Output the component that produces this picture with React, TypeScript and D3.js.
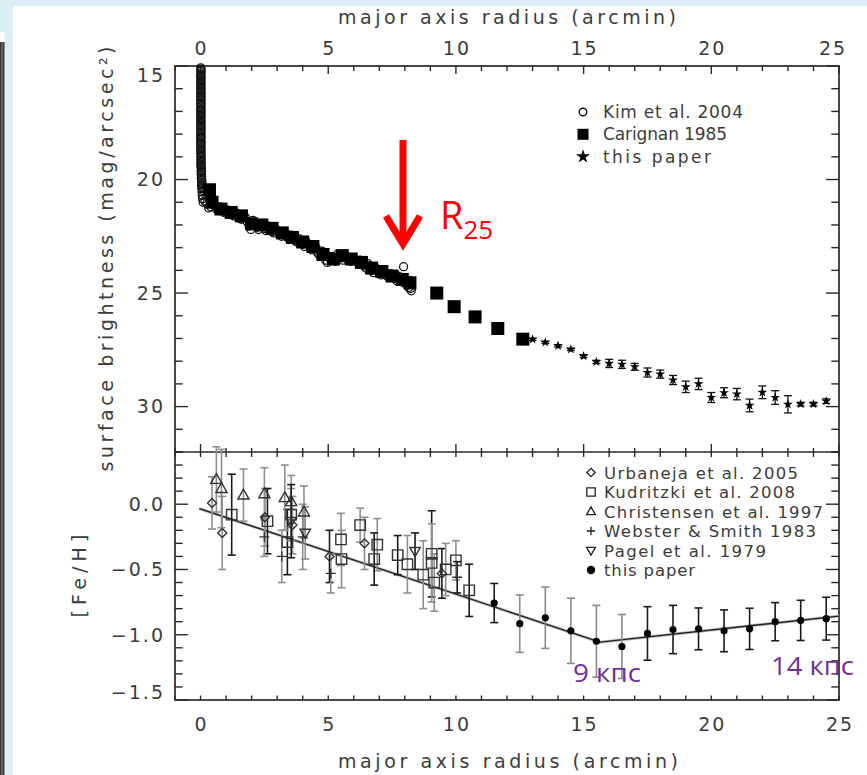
import React from "react";
import * as d3 from "d3";

// ---------------- data ----------------
// Upper panel: surface brightness profile (Kim et al. 2004, open circles)
const kimR = [
  0.02, 0.02, 0.02, 0.02, 0.02, 0.02, 0.02, 0.02, 0.02, 0.02, 0.02, 0.02, 0.02,
  0.02, 0.02, 0.02, 0.02, 0.02, 0.02, 0.02, 0.02, 0.02, 0.02, 0.02, 0.02, 0.02,
  0.02, 0.02, 0.02, 0.03, 0.03, 0.03, 0.03, 0.04, 0.04, 0.05, 0.06, 0.07, 0.08,
  0.01, 0.01, 0.01, 0.01, 0.01, 0.01, 0.01, 0.01, 0.01, 0.01, 0.01, 0.01, 0.01,
  0.01, 0.01, 0.01, 0.01, 0.01, 0.01, 0.01, 0.01, 0.01, 0.01, 0.01, 0.01, 0.01,
  0.02, 0.02, 0.02, 0.02, 0.03, 0.03, 0.04, 0.05, 0.06, 0.07, 0.09,
  0.1, 0.25, 0.4, 0.55, 0.7, 0.85, 1.0, 1.15, 1.3, 1.45, 1.6, 1.75, 1.9, 2.05,
  2.2, 2.35, 2.5, 2.65, 2.8, 2.95, 3.1, 3.25, 3.4, 3.55, 3.7, 3.85, 4.0, 4.15,
  4.3, 4.45, 4.6, 4.75, 4.9, 5.05, 5.2, 5.35, 5.5, 5.65, 5.8, 5.95, 6.1, 6.25,
  6.4, 6.55, 6.7, 6.85, 7.0, 7.15, 7.3, 7.45, 7.6, 7.75, 7.9, 7.95, 8.05, 8.15,
  8.25, 8.2,
  0.17, 0.32, 0.47, 0.62, 0.77, 0.92, 1.07, 1.22, 1.37, 1.52, 1.67, 1.82, 1.97,
  2.12, 2.27, 2.42, 2.57, 2.72, 2.87, 3.02, 3.17, 3.32, 3.47, 3.62, 3.77, 3.92,
  4.07, 4.22, 4.37, 4.52, 4.67, 4.82, 4.97, 5.12, 5.27, 5.42, 5.57, 5.72, 5.87,
  6.02, 6.17, 6.32, 6.47, 6.62, 6.77, 6.92, 7.07, 7.22, 7.37, 7.52, 7.67, 7.82,
  7.97, 8.1, 8.22,
];
const kimMag = [
  15.15, 15.3, 15.45, 15.6, 15.75, 15.9, 16.05, 16.2, 16.35, 16.5, 16.65, 16.8,
  16.95, 17.1, 17.25, 17.4, 17.55, 17.7, 17.85, 18.0, 18.15, 18.3, 18.45, 18.6,
  18.75, 18.9, 19.05, 19.2, 19.35, 19.5, 19.65, 19.8, 19.95, 20.1, 20.25, 20.4,
  20.55, 20.7, 20.85,
  15.08, 15.22, 15.38, 15.52, 15.68, 15.82, 15.98, 16.12, 16.28, 16.42, 16.58,
  16.72, 16.88, 17.02, 17.18, 17.32, 17.48, 17.62, 17.78, 17.92, 18.08, 18.22,
  18.38, 18.52, 18.68, 18.82, 18.98, 19.12, 19.28, 19.42, 19.58, 19.72, 19.88,
  20.02, 20.18, 20.32, 20.48,
  21.0, 21.05, 21.2, 21.15, 21.35, 21.3, 21.45, 21.4, 21.6, 21.5, 21.75, 21.65,
  22.05, 21.8, 22.1, 21.95, 22.15, 22.05, 22.3, 22.2, 22.4, 22.3, 22.55, 22.45,
  22.7, 22.6, 22.85, 22.75, 23.0, 22.95, 23.25, 23.15, 23.55, 23.45, 23.5, 23.3,
  23.45, 23.35, 23.55, 23.45, 23.6, 23.55, 23.8, 23.7, 24.0, 23.9, 24.1, 24.0,
  24.25, 24.15, 24.35, 24.25, 24.45, 23.84, 24.55, 24.75, 24.9, 24.45,
  20.95, 21.25, 21.05, 21.3, 21.2, 21.45, 21.35, 21.55, 21.45, 21.7, 21.6, 21.85,
  22.2, 21.95, 22.2, 22.05, 22.25, 22.1, 22.35, 22.25, 22.5, 22.35, 22.6, 22.55,
  22.75, 22.7, 22.95, 22.85, 23.1, 23.0, 23.35, 23.3, 23.65, 23.4, 23.6, 23.4,
  23.55, 23.4, 23.6, 23.5, 23.7, 23.65, 23.9, 23.8, 24.1, 23.95, 24.2, 24.1,
  24.3, 24.25, 24.45, 24.35, 24.55, 24.65, 24.8,
];
// Carignan 1985 (filled squares)
const carR = [
  0.35, 0.45, 0.8, 1.2, 1.6, 2.0, 2.4, 2.8, 3.2, 3.6, 4.0, 4.4, 4.8, 5.2, 5.55,
  5.9, 6.3, 6.7, 7.1, 7.5, 7.9, 8.2, 9.25, 9.93, 10.75, 11.64, 12.62,
];
const carMag = [
  20.45, 21.0, 21.3, 21.45, 21.6, 21.95, 22.0, 22.15, 22.35, 22.55, 22.75,
  22.95, 23.3, 23.5, 23.35, 23.5, 23.65, 23.9, 24.05, 24.25, 24.4, 24.55, 25.0,
  25.6, 26.05, 26.56, 27.03,
];
// this paper (stars with error bars)
const starR = [
  13.0, 13.5, 14.0, 14.5, 15.0, 15.5, 16.0, 16.5, 17.0, 17.5, 18.0, 18.5, 19.0,
  19.5, 20.0, 20.5, 21.0, 21.5, 22.0, 22.5, 23.0, 23.5, 24.0, 24.5,
];
const starMag = [
  27.04, 27.17, 27.32, 27.48, 27.78, 28.03, 28.1, 28.14, 28.25, 28.5, 28.57,
  28.83, 29.13, 29.0, 29.6, 29.39, 29.45, 29.95, 29.37, 29.6, 29.9, 29.89,
  29.89, 29.76,
];
const starErr = [
  0.05, 0.05, 0.05, 0.05, 0.06, 0.07, 0.18, 0.18, 0.15, 0.2, 0.18, 0.2, 0.25,
  0.25, 0.22, 0.22, 0.25, 0.28, 0.28, 0.3, 0.38, 0.08, 0.08, 0.1,
];

// Lower panel: [Fe/H] gradient  ([radius, [Fe/H], error])
const urbaneja = [
  [0.45, 0.01, 0.2], [0.85, -0.22, 0.28], [2.52, -0.1, 0.22], [3.6, -0.16, 0.22],
  [5.05, -0.4, 0.2], [6.42, -0.3, 0.2], [9.45, -0.53, 0.19],
];
const kudritzki = [
  [1.22, -0.08, 0.31], [2.62, -0.13, 0.25], [3.4, -0.29, 0.25], [3.55, -0.08, 0.2],
  [5.5, -0.27, 0.2], [5.52, -0.42, 0.22], [6.25, -0.16, 0.13], [6.92, -0.31, 0.2],
  [6.8, -0.42, 0.2], [7.72, -0.39, 0.15], [8.1, -0.46, 0.22], [8.72, -0.54, 0.26],
  [9.05, -0.38, 0.33], [9.05, -0.45, 0.3], [9.15, -0.6, 0.22], [9.6, -0.5, 0.2],
  [10.0, -0.43, 0.15], [10.52, -0.66, 0.2],
];
const christensen = [
  [0.62, 0.19, 0.25], [0.82, 0.12, 0.3], [1.68, 0.07, 0.2], [2.5, 0.08, 0.2],
  [3.3, 0.05, 0.25], [3.55, 0.02, 0.2], [4.05, -0.06, 0.2],
];
const webster = [
  [2.5, -0.25, 0.15], [3.18, -0.4, 0.2], [4.0, -0.25, 0.25], [5.1, -0.53, 0.15],
  [10.05, -0.56, 0.12],
];
const pagel = [[3.55, -0.13, 0.28], [4.1, -0.22, 0.2], [8.4, -0.36, 0.14]];
const tpR = [11.5, 12.5, 13.5, 14.5, 15.5, 16.5, 17.5, 18.5, 19.5, 20.5, 21.5, 22.5, 23.5, 24.5];
const tpFeH = [-0.757, -0.915, -0.87, -0.97, -1.05, -1.09, -0.99, -0.96, -0.955, -0.97, -0.955, -0.9, -0.89, -0.877];
const tpErr = [0.15, 0.22, 0.235, 0.25, 0.275, 0.245, 0.205, 0.185, 0.16, 0.16, 0.158, 0.146, 0.154, 0.164];
const fitR = [-0.05, 15.64, 25];
const fitFeH = [-0.033, -1.057, -0.857];

// tick labels & legend texts
const xTickLabels = [0, 5, 10, 15, 20, 25];
const sbTickLabels = [15, 20, 25, 30];
const fehTickLabels = [0.0, -0.5, -1.0, -1.5];
const topLegend = ["Kim et al. 2004", "Carignan 1985", "this paper"];
const botLegend = [
  "Urbaneja et al. 2005",
  "Kudritzki et al. 2008",
  "Christensen et al. 1997",
  "Webster & Smith 1983",
  "Pagel et al. 1979",
  "this paper",
];

// styling
const topLegendWidths = [140, 124, 108];
const botLegendWidths = [194, 191, 219, 212, 162, 91];
const darkBars: Record<string, number[]> = {
  urbaneja: [4, 6],
  kudritzki: [0, 1, 2, 8, 9, 12, 17],
  pagel: [0, 2],
  webster: [4],
  christensen: [],
};

// ---------------- layout ----------------
const W = 867;
const H = 775;
const L = 175, R = 839, T = 66, MID = 452, B = 700;
const AX = "#2a2a2a";
const TXT = "#3c3c3c";
const FONT = "DejaVu Sans";

const fmtFe = (v: number) => (v < 0 ? "\u2212" : "") + Math.abs(v).toFixed(1);

function marker(kind: string, cx: number, cy: number, s = 4.6): string {
  switch (kind) {
    case "diamond":
      return `M${cx},${cy - s}L${cx + s},${cy}L${cx},${cy + s}L${cx - s},${cy}Z`;
    case "square":
      return `M${cx - s},${cy - s}h${2 * s}v${2 * s}h${-2 * s}Z`;
    case "tri":
      return `M${cx},${cy - s * 1.1}L${cx + s * 1.05},${cy + s * 0.75}L${cx - s * 1.05},${cy + s * 0.75}Z`;
    case "tridown":
      return `M${cx},${cy + s * 1.1}L${cx + s * 1.05},${cy - s * 0.75}L${cx - s * 1.05},${cy - s * 0.75}Z`;
    case "plus":
      return `M${cx - s},${cy}H${cx + s}M${cx},${cy - s}V${cy + s}`;
    default:
      return "";
  }
}

export default function App() {
  const x = d3.scaleLinear().domain([-1, 25]).range([L, R]);
  const ySB = d3.scaleLinear().domain([15, 32]).range([T, MID]);
  const yFe = d3.scaleLinear().domain([0.4, -1.5]).range([MID, B]);

  const starPath = d3.symbol().type(d3.symbolStar).size(30)() as string;
  const legendStar = d3.symbol().type(d3.symbolStar).size(60)() as string;

  const xMinor = d3.range(-1, 26);
  const sbMinor = d3.range(15, 33);
  const feMinor = d3.range(-15, 5).map((d) => d / 10);

  const fitLine = d3
    .line<number>()
    .x((_, i) => x(fitR[i]))
    .y((d) => yFe(d))(fitFeH) as string;

  const lit = [
    { key: "urbaneja", data: urbaneja, kind: "diamond", s: 4.5 },
    { key: "kudritzki", data: kudritzki, kind: "square", s: 5.2 },
    { key: "christensen", data: christensen, kind: "tri", s: 5.3 },
    { key: "webster", data: webster, kind: "plus", s: 5 },
    { key: "pagel", data: pagel, kind: "tridown", s: 5 },
  ];

  const tickLabelY = (y: number, top: number, bottom: number) =>
    Math.min(Math.max(y, top + 9), bottom - 8);

  return (
    <svg
      width={W}
      height={H}
      style={{ position: "absolute", left: 0, top: 0, background: "#dbeef4" }}
      fontFamily={FONT}
    >
      {/* page decoration */}
      <rect x={0} y={0} width={W} height={H} fill="#dbeef4" />
      <rect x={13} y={6} width={W - 13} height={H - 6} fill="#ffffff" />
      <rect x={0} y={32} width={4.5} height={10} fill="#ffffff" />
      <rect x={0} y={42} width={4.5} height={H - 42} fill="#3a3a3a" />
      <rect x={1.5} y={42} width={1.2} height={H - 42} fill="#777" />

      {/* ---------- frames ---------- */}
      <rect x={L} y={T} width={R - L} height={B - T} fill="none" stroke={AX} strokeWidth={1.7} />
      <line x1={L} x2={R} y1={MID} y2={MID} stroke={AX} strokeWidth={1.7} />

      {/* x ticks */}
      {xMinor.map((v) => {
        const major = v % 5 === 0;
        const px = x(v);
        return (
          <g key={"xt" + v} stroke={AX} strokeWidth={1.4}>
            <line x1={px} x2={px} y1={T} y2={T + (major ? 8 : 5)} />
            <line x1={px} x2={px} y1={MID} y2={MID - (major ? 8 : 4)} />
            <line x1={px} x2={px} y1={MID} y2={MID + 5} />
            <line x1={px} x2={px} y1={B} y2={B - 4.5} />
          </g>
        );
      })}
      {/* y ticks upper */}
      {sbMinor.map((v) => {
        const len = v % 5 === 0 ? 13 : 7.7;
        const py = ySB(v);
        return (
          <g key={"sb" + v} stroke={AX} strokeWidth={1.4}>
            <line x1={L} x2={L + len} y1={py} y2={py} />
            <line x1={R} x2={R - len} y1={py} y2={py} />
          </g>
        );
      })}
      {/* y ticks lower */}
      {feMinor.map((v) => {
        const major = Math.abs(Math.round(v * 10)) % 5 === 0;
        const len = major ? 13 : 7.7;
        const py = yFe(v);
        return (
          <g key={"fe" + v} stroke={AX} strokeWidth={1.4}>
            <line x1={L} x2={L + len} y1={py} y2={py} />
            <line x1={R} x2={R - len} y1={py} y2={py} />
          </g>
        );
      })}

      {/* tick labels */}
      <g fill={TXT} fontSize={19} letterSpacing={2}>
        {xTickLabels.map((v) => (
          <text key={"xl" + v} x={x(v) + (v === 25 ? -6 : 1)} y={55} textAnchor="middle">
            {v}
          </text>
        ))}
        {xTickLabels.map((v) => (
          <text key={"xb" + v} x={x(v) + 1} y={731} textAnchor="middle">
            {v}
          </text>
        ))}
        {sbTickLabels.map((v) => (
          <text key={"sl" + v} x={165} y={tickLabelY(ySB(v), T, MID)} dy="0.36em" textAnchor="end">
            {v}
          </text>
        ))}
        {fehTickLabels.map((v) => (
          <text key={"fl" + v} x={165} y={tickLabelY(yFe(v), MID, B)} dy="0.36em" textAnchor="end">
            {fmtFe(v)}
          </text>
        ))}
      </g>

      {/* axis titles */}
      <g fill={TXT} fontSize={19}>
        <text x={338} y={24} textLength={338} lengthAdjust="spacing">
          major axis radius (arcmin)
        </text>
        <text x={338} y={768} textLength={340} lengthAdjust="spacing">
          major axis radius (arcmin)
        </text>
        <text
          transform={`translate(113,${(T + MID) / 2}) rotate(-90)`}
          textAnchor="middle"
          textLength={425}
          lengthAdjust="spacing"
        >
          surface brightness (mag/arcsec²)
        </text>
        <text
          transform={`translate(86,${(MID + B) / 2}) rotate(-90)`}
          textAnchor="middle"
          textLength={83}
          lengthAdjust="spacing"
        >
          [Fe/H]
        </text>
      </g>

      {/* ---------- upper panel data ---------- */}
      <g>
        {kimR.map((r, i) => (
          <circle
            key={"k" + i}
            cx={x(r)}
            cy={ySB(kimMag[i])}
            r={4}
            fill="none"
            stroke="#111"
            strokeWidth={1.3}
          />
        ))}
        {carR.map((r, i) => (
          <rect
            key={"c" + i}
            x={x(r) - 6.5}
            y={ySB(carMag[i]) - 6.5}
            width={13}
            height={13}
            fill="#000"
          />
        ))}
        {starR.map((r, i) => {
          const px = x(r);
          const y1 = ySB(starMag[i] - starErr[i]);
          const y2 = ySB(starMag[i] + starErr[i]);
          return (
            <g key={"s" + i} stroke="#111" strokeWidth={1.3}>
              <line x1={px} x2={px} y1={y1} y2={y2} />
              <line x1={px - 4} x2={px + 4} y1={y1} y2={y1} />
              <line x1={px - 4} x2={px + 4} y1={y2} y2={y2} />
              <path d={starPath} transform={`translate(${px},${ySB(starMag[i])})`} fill="#000" stroke="none" />
            </g>
          );
        })}
      </g>

      {/* upper legend */}
      <g fill={TXT} fontSize={17}>
        {topLegend.map((t, i) => {
          const cy = 112 + i * 22.3;
          return (
            <g key={"tl" + i}>
              {i === 0 && <circle cx={583} cy={cy} r={3.8} fill="none" stroke="#111" strokeWidth={1.4} />}
              {i === 1 && <rect x={577.5} y={cy - 5.5} width={11} height={11} fill="#000" />}
              {i === 2 && <path d={legendStar} transform={`translate(583,${cy})`} fill="#000" />}
              <text x={603} y={cy + 6} textLength={topLegendWidths[i]} lengthAdjust="spacing">
                {t}
              </text>
            </g>
          );
        })}
      </g>

      {/* ---------- lower panel data ---------- */}
      <path d={fitLine} fill="none" stroke="#bbb" strokeWidth={3} />
      <path d={fitLine} fill="none" stroke="#222" strokeWidth={1.3} />

      {lit.map((s) =>
        s.data.map((d, i) => {
          const px = x(d[0]);
          const y1 = yFe(d[1] + d[2]);
          const y2 = yFe(d[1] - d[2]);
          const dark = darkBars[s.key].includes(i);
          return (
            <g key={s.key + "e" + i} stroke={dark ? "#1a1a1a" : "#8f8f8f"} strokeWidth={1.6}>
              <line x1={px} x2={px} y1={y1} y2={y2} />
              <line x1={px - 4} x2={px + 4} y1={y1} y2={y1} />
              <line x1={px - 4} x2={px + 4} y1={y2} y2={y2} />
            </g>
          );
        })
      )}
      {lit.map((s) =>
        s.data.map((d, i) => (
          <path
            key={s.key + "m" + i}
            d={marker(s.kind, x(d[0]), yFe(d[1]), s.s)}
            fill="none"
            stroke="#333"
            strokeWidth={1.4}
          />
        ))
      )}
      {tpR.map((r, i) => {
        const px = x(r);
        const y1 = yFe(tpFeH[i] + tpErr[i]);
        const y2 = yFe(tpFeH[i] - tpErr[i]);
        const col = tpErr[i] > 0.21 ? "#8a8a8a" : "#1a1a1a";
        return (
          <g key={"tp" + i}>
            <g stroke={col} strokeWidth={1.6}>
              <line x1={px} x2={px} y1={y1} y2={y2} />
              <line x1={px - 4} x2={px + 4} y1={y1} y2={y1} />
              <line x1={px - 4} x2={px + 4} y1={y2} y2={y2} />
            </g>
            <circle cx={px} cy={yFe(tpFeH[i])} r={3.6} fill="#000" />
          </g>
        );
      })}

      {/* lower legend */}
      <g fill={TXT} fontSize={16.5}>
        {botLegend.map((t, i) => {
          const cy = 472.5 + i * 19.5;
          const kinds = ["diamond", "square", "tri", "plus", "tridown"];
          return (
            <g key={"bl" + i}>
              {i < 5 ? (
                <path d={marker(kinds[i], 591, cy, 4.2)} fill="none" stroke="#222" strokeWidth={1.3} />
              ) : (
                <circle cx={591} cy={cy} r={4.2} fill="#000" />
              )}
              <text x={604} y={cy + 6} textLength={botLegendWidths[i]} lengthAdjust="spacing">
                {t}
              </text>
            </g>
          );
        })}
      </g>

      {/* ---------- annotations ---------- */}
      <line x1={403} x2={403} y1={140} y2={243} stroke="#ff0000" strokeWidth={7} />
      <polyline
        points="386,216 403,244 420,216"
        fill="none"
        stroke="#ff0000"
        strokeWidth={7}
        strokeLinejoin="miter"
      />
      <text x={440} y={229} fill="#ff0000" fontFamily="Open Sans" fontSize={38}>
        R
        <tspan fontSize={26} dy={10}>
          25
        </tspan>
      </text>
      <text x={573} y={682} fill="#7030a0" fontFamily="Open Sans" fontSize={26} textLength={68} lengthAdjust="spacingAndGlyphs">
        9 кпс
      </text>
      <text x={771} y={675} fill="#7030a0" fontFamily="Open Sans" fontSize={26} textLength={83} lengthAdjust="spacingAndGlyphs">
        14 кпс
      </text>
    </svg>
  );
}
